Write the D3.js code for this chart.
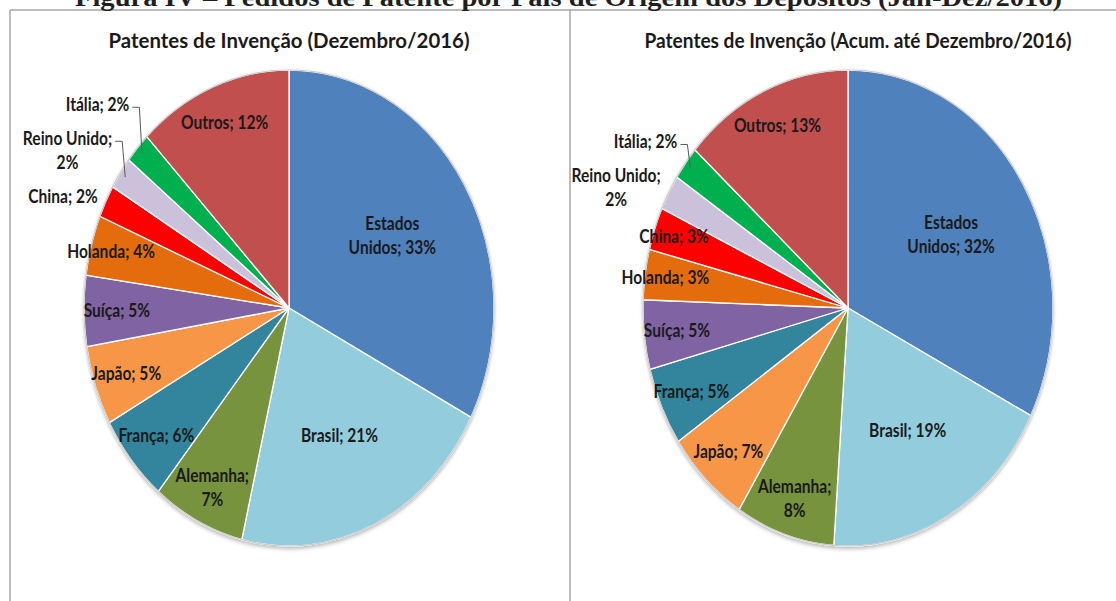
<!DOCTYPE html>
<html>
<head>
<meta charset="utf-8">
<script src="https://cdn.jsdelivr.net/npm/d3@7"></script>
<style>
  body { margin: 0; background: #fff; }
  svg { display: block; }
  .frame { stroke: #a6a6a6; stroke-width: 1.5; }
  .fig-title { font-family: "Liberation Serif", "DejaVu Serif", serif; font-weight: bold; font-size: 26px; fill: #1f1f1f; }
  .pie-title { font-family: Lato, Roboto, sans-serif; font-weight: bold; font-size: 20px; fill: #1a1a1a; }
  .slice-label { font-family: Lato, "Open Sans", sans-serif; font-weight: bold; font-size: 19px; fill: #1a1a1a; }
  .leader { fill: none; stroke: #595959; stroke-width: 1; }
</style>
</head>
<body>
<script>
const width = 1116;
const height = 601;
const labelSqueeze = 0.82; // o texto original está comprimido na horizontal

const figureTitle = "Figura IV – Pedidos de Patente por País de Origem dos Depósitos (Jan-Dez/2016)";

const categoriesMonth = ["Estados Unidos", "Brasil", "Alemanha", "França", "Japão", "Suíça", "Holanda", "China", "Reino Unido", "Itália", "Outros"];
const valuesMonth = [32.6, 21.1, 7.3, 6.0, 5.4, 4.8, 4.1, 2.2, 2.2, 2.1, 12.2];

// Acumulado até Dezembro/2016
const categoriesAcum = ["Estados Unidos", "Brasil", "Alemanha", "Japão", "França", "Suíça", "Holanda", "China", "Reino Unido", "Itália", "Outros"];
const valuesAcum = [32.4, 18.6, 7.8, 6.6, 5.3, 4.7, 3.4, 2.9, 2.4, 2.3, 13.4];

const colors = {
  "Estados Unidos": "#4f81bd",
  "Brasil": "#93cddd",
  "Alemanha": "#77933c",
  "França": "#31859c",
  "Japão": "#f79646",
  "Suíça": "#8064a2",
  "Holanda": "#e46c0a",
  "China": "#ff0000",
  "Reino Unido": "#ccc1da",
  "Itália": "#00b050",
  "Outros": "#c0504d"
};

const svg = d3.select("body").append("svg")
  .attr("width", width)
  .attr("height", height);

const defs = svg.append("defs");
defs.append("filter")
  .attr("id", "shadow")
  .attr("x", "-10%").attr("y", "-10%").attr("width", "120%").attr("height", "120%")
  .append("feDropShadow")
  .attr("dx", 0).attr("dy", 2).attr("stdDeviation", 2)
  .attr("flood-color", "#000").attr("flood-opacity", 0.3);

// moldura
svg.append("line").attr("class", "frame").attr("x1", 10).attr("y1", 10).attr("x2", width).attr("y2", 10);
svg.append("line").attr("class", "frame").attr("x1", 10).attr("y1", 10).attr("x2", 10).attr("y2", height);
svg.append("line").attr("class", "frame").attr("x1", 570).attr("y1", 10).attr("x2", 570).attr("y2", height);

svg.append("text")
  .attr("class", "fig-title")
  .attr("x", 75)
  .attr("y", 6)
  .attr("textLength", 987)
  .attr("lengthAdjust", "spacingAndGlyphs")
  .text(figureTitle);

function labelLines(name, v) {
  const pct = Math.round(v) + "%";
  if (name === "Estados Unidos") return ["Estados", "Unidos; " + pct];
  if (name === "Alemanha" || name === "Reino Unido") return [name + ";", pct];
  return [name + "; " + pct];
}

function labelRadius(v) {
  if (v >= 15) return 0.59;
  if (v >= 4.5) return 0.84;
  if (v >= 2.5) return 0.9;
  return null; // fora da pizza
}

const lineGap = 24;

function makeLabel(g, lines) {
  const t = g.append("text")
    .attr("class", "slice-label")
    .attr("text-anchor", "middle");
  lines.forEach((s, i) => {
    t.append("tspan")
      .attr("x", 0)
      .attr("y", (i - (lines.length - 1) / 2) * lineGap)
      .attr("dy", "0.35em")
      .text(s);
  });
  return t;
}

function placeLabel(t, x, y) {
  t.attr("transform", `translate(${x},${y}) scale(${labelSqueeze},1)`);
}

function drawPie(opts) {
  const { cx, cy, rx, ry, title, titleX, titleWidth, categories, values } = opts;
  const data = categories.map((c, i) => ({ name: c, value: values[i] }));

  svg.append("text")
    .attr("class", "pie-title")
    .attr("x", titleX - titleWidth / 2)
    .attr("y", 48)
    .attr("textLength", titleWidth)
    .attr("lengthAdjust", "spacingAndGlyphs")
    .text(title);

  const pie = d3.pie().sort(null).value(d => d.value);
  const arcs = pie(data);
  const arc = d3.arc().innerRadius(0).outerRadius(ry);

  const g = svg.append("g").attr("transform", `translate(${cx},${cy})`);
  const body = g.append("g")
    .attr("transform", `scale(${rx / ry},1)`)
    .attr("filter", "url(#shadow)");

  body.selectAll("path.slice")
    .data(arcs)
    .enter()
    .append("path")
    .attr("class", "slice")
    .attr("d", arc)
    .attr("fill", d => colors[d.data.name])
    .attr("stroke", "#fff")
    .attr("stroke-width", 1.3)
    .attr("vector-effect", "non-scaling-stroke");

  g.append("ellipse")
    .attr("rx", rx).attr("ry", ry)
    .attr("fill", "none")
    .attr("stroke", "#c9c9c9")
    .attr("stroke-width", 1.2);

  const pos = (a, r) => [Math.sin(a) * r * rx, -Math.cos(a) * r * ry];

  // rótulos internos
  const outside = [];
  arcs.forEach(d => {
    const mid = (d.startAngle + d.endAngle) / 2;
    const lines = labelLines(d.data.name, d.data.value);
    const t = makeLabel(g, lines);
    const r = labelRadius(d.data.value);
    if (r !== null) {
      const [lx, ly] = pos(mid, r);
      placeLabel(t, lx, ly);
    } else {
      outside.push({ t, mid, lines });
    }
  });

  // rótulos externos: à esquerda do ponto na borda, empurrados para cima se colidirem
  let limit = Infinity;
  outside.forEach(o => {
    const [ex, ey] = pos(o.mid, 1);
    const bb = o.t.node().getBBox();
    const w = bb.width * labelSqueeze;
    const h = o.lines.length * 20;
    let y = ey - 5;
    if (y + h / 2 > limit) y = limit - h / 2;
    limit = y - h / 2 - 16;
    const right = ex - 8;
    placeLabel(o.t, right - w / 2, y);
    if (ey - y > 12) {
      const x0 = right + 3;
      const y0 = y - (o.lines.length - 1) * lineGap / 2 + 3;
      const [px, py] = pos(o.mid, 0.97);
      g.append("polyline")
        .attr("class", "leader")
        .attr("points", [[x0, y0], [x0 + 7, y0], [px, py]].map(p => p.join(",")).join(" "));
    }
  });
}

drawPie({
  cx: 289, cy: 308, rx: 205, ry: 238,
  title: "Patentes de Invenção (Dezembro/2016)",
  titleX: 289, titleWidth: 361,
  categories: categoriesMonth, values: valuesMonth
});

drawPie({
  cx: 848, cy: 308, rx: 205, ry: 238,
  title: "Patentes de Invenção (Acum. até Dezembro/2016)",
  titleX: 858, titleWidth: 427,
  categories: categoriesAcum, values: valuesAcum
});
</script>
</body>
</html>
